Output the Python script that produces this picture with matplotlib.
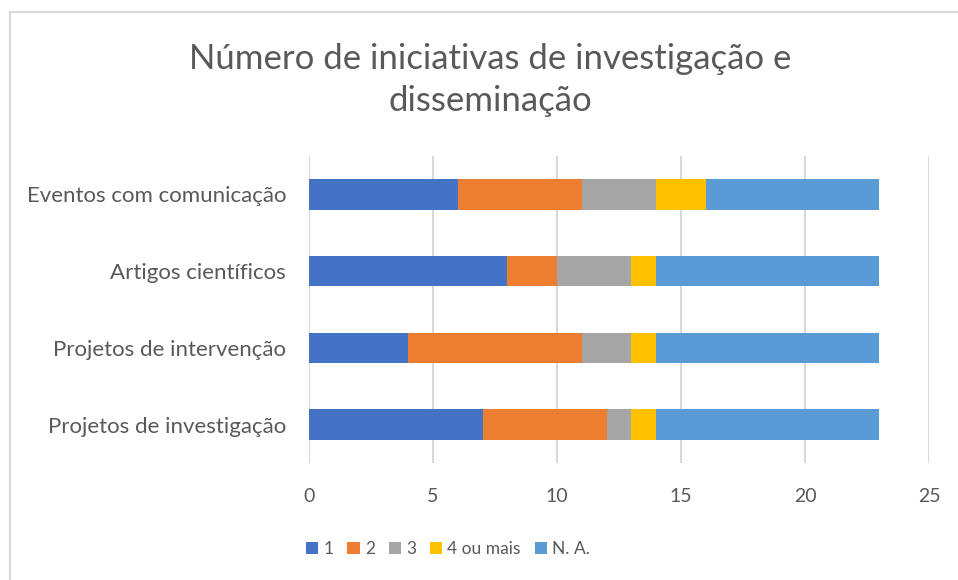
import matplotlib.pyplot as plt
from matplotlib.patches import Rectangle
import numpy as np

# Data (bottom to top as drawn)
categories = ['Projetos de investigação', 'Projetos de intervenção',
              'Artigos científicos', 'Eventos com comunicação']
series = ['1', '2', '3', '4 ou mais', 'N. A.']
v1 = [7, 4, 8, 6]
v2 = [5, 7, 2, 5]
v3 = [1, 2, 3, 3]
v4 = [1, 1, 1, 2]
vna = [9, 9, 9, 7]
colors = ['#4472C4', '#ED7D31', '#A5A5A5', '#FFC000', '#5B9BD5']

plt.rcParams['font.family'] = ['Lato', 'DejaVu Sans']
txt = '#595959'

fig = plt.figure(figsize=(9.58, 5.80), dpi=100)
fig.patch.set_facecolor('white')

# chart border
fig.patches.append(Rectangle((10 / 958, -0.05), 1.1, (580 - 12) / 580 + 0.05,
                             transform=fig.transFigure, fill=False,
                             edgecolor='#D9D9D9', linewidth=1.5))

ax = fig.add_axes([309 / 958, 117 / 580, 620 / 958, 307 / 580])

y = np.arange(len(categories))
left = np.zeros(len(categories))
for vals, name, c in zip([v1, v2, v3, v4, vna], series, colors):
    ax.barh(y, vals, left=left, height=0.4, color=c, label=name, zorder=3)
    left += np.array(vals)

ax.set_xlim(0, 25)
ax.set_ylim(-0.5, 3.5)
ax.set_xticks(range(0, 26, 5))
ax.set_yticks(y)
ax.set_yticklabels(categories)
ax.grid(axis='x', color='#D9D9D9', linewidth=1.5, zorder=0)
for s in ax.spines.values():
    s.set_visible(False)
ax.tick_params(length=0, colors=txt)
ax.tick_params(axis='x', pad=18, labelsize=14)
ax.tick_params(axis='y', pad=16.5, labelsize=16)

fig.text(490 / 958, 1 - 80 / 580, 'Número de iniciativas de investigação e\ndisseminação',
         ha='center', va='center', fontsize=25, color=txt, linespacing=1.35)

fig.legend(loc='center', bbox_to_anchor=(448 / 958, 1 - 549 / 580), ncol=5,
           frameon=False, fontsize=12.5, handlelength=0.7, handleheight=0.7,
           handletextpad=0.3, columnspacing=0.8, labelcolor=txt)

fig.savefig('out.png', dpi=100)
